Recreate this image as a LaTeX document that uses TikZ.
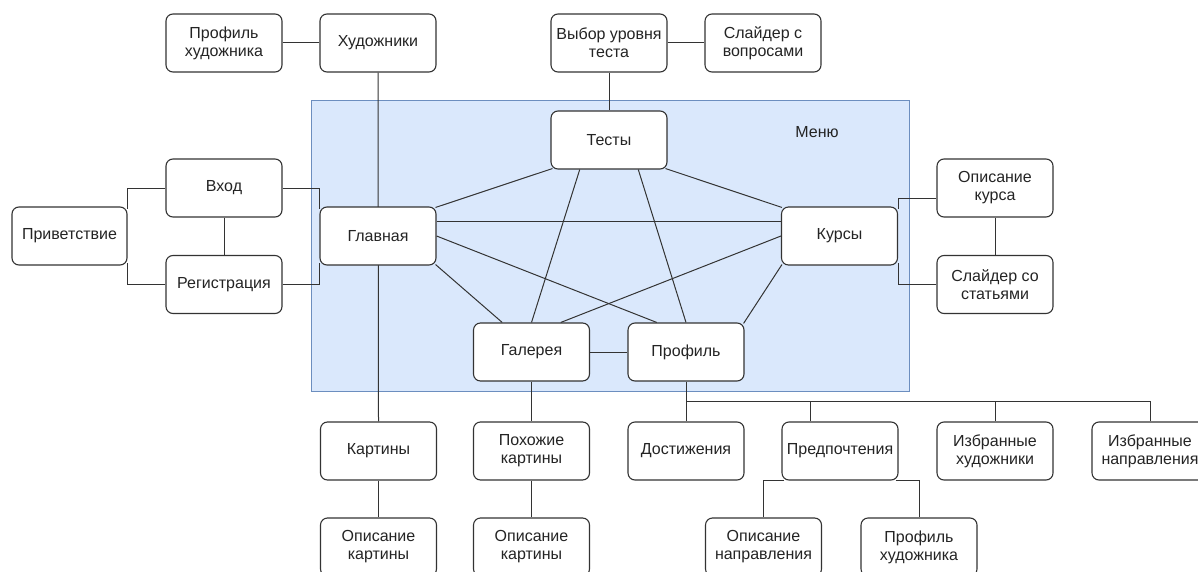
\documentclass[tikz,border=0pt]{standalone}
\usepackage{fontspec}
\setmainfont{Liberation Sans}
\usetikzlibrary{calc}
\definecolor{menufill}{HTML}{DAE8FC}
\definecolor{menuline}{HTML}{6C8EBF}
\definecolor{ink}{HTML}{333333}
\pgfdeclarelayer{bg}
\pgfdeclarelayer{edges}
\pgfsetlayers{bg,edges,main}
\tikzset{
  txt/.style={font=\fontsize{16}{18}\selectfont, text=ink!70!black},
  box/.style={txt, draw=ink, line width=1.1pt, fill=white, rounded corners=7pt,
    minimum width=116pt, minimum height=58pt, inner sep=0pt, align=center},
  conn/.style={draw=ink, line width=1pt},
}
\begin{document}
\begin{tikzpicture}[x=1pt,y=-1pt]
\useasboundingbox (0,0) rectangle (1198,572);
\clip (0,0) rectangle (1198,572);
% menu area
\begin{pgfonlayer}{bg}
\fill[menufill, draw=menuline, line width=1pt] (311,101) rectangle (909,391);
\end{pgfonlayer}
\node[txt] (menu) at (817,132) {Меню};
% nodes
\node[box] (prof1) at (224,43) {Профиль\\художника};
\node[box] (art) at (378,43) {Художники};
\node[box] (vybor) at (609,43) {Выбор уровня\\теста};
\node[box] (slq) at (763,43) {Слайдер с\\вопросами};
\node[box] (tests) at (609,140) {Тесты};
\node[box] (vhod) at (224,188) {Вход};
\node[box, minimum width=115pt] (priv) at (69.5,236) {Приветствие};
\node[box] (reg) at (224,284.5) {Регистрация};
\node[box] (gl) at (378,236) {Главная};
\node[box] (kursy) at (839.5,236) {Курсы};
\node[box] (opk) at (995,188) {Описание\\курса};
\node[box] (sls) at (995,284.5) {Слайдер со\\статьями};
\node[box] (gal) at (531.5,352) {Галерея};
\node[box] (prof) at (686,352) {Профиль};
\node[box] (kart) at (378.5,451) {Картины};
\node[box] (pohozh) at (531.5,451) {Похожие\\картины};
\node[box] (dost) at (686,451) {Достижения};
\node[box] (pred) at (840,451) {Предпочтения};
\node[box] (izbh) at (995,451) {Избранные\\художники};
\node[box] (izbn) at (1150,451) {Избранные\\направления};
\node[box] (opk1) at (378.5,547) {Описание\\картины};
\node[box] (opk2) at (531.5,547) {Описание\\картины};
\node[box] (opn) at (763.5,547) {Описание\\направления};
\node[box] (prof2) at (919,547) {Профиль\\художника};
\coordinate (pb) at (686,401);
% connectors
\begin{pgfonlayer}{edges}
\draw[conn] (prof1.east) -- (art.west);
\draw[conn] (art.south) -- (kart.north);
\draw[conn] (vybor.east) -- (slq.west);
\draw[conn] (vybor.south) -- (tests.north);
\draw[conn] (vhod.south) -- (reg.north);
\draw[conn] (vhod.west) -| ($(priv.north east)+(0,3)$);
\draw[conn] (reg.west) -| ($(priv.south east)+(0,-3)$);
\draw[conn] (vhod.east) -| ($(gl.north west)+(0,3)$);
\draw[conn] (reg.east) -| ($(gl.south west)+(0,-3)$);
\draw[conn] ($(opk.west)+(0,10)$) -| ($(kursy.north east)+(0,3)$);
\draw[conn] (sls.west) -| ($(kursy.south east)+(0,-3)$);
\draw[conn] (opk.south) -- (sls.north);
\draw[conn] (gal.south) -- (pohozh.north);
\draw[conn] (pohozh.south) -- (opk2.north);
\draw[conn] (kart.south) -- (opk1.north);
\draw[conn] (prof.south) -- (dost.north);
\draw[conn] (pb) -| (izbn.north);
\draw[conn] (pb) -| ($(pred.north west)!0.25!(pred.north east)$);
\draw[conn] (pb) -| (izbh.north);
\draw[conn] ($(pred.south west)+(3,0)$) -| (opn.north);
\draw[conn] ($(pred.south east)+(-3,0)$) -| (prof2.north);
% menu graph
\draw[conn] ($(gl.north east)+(-1,1)$) -- ($(tests.south west)+(2,-1)$);
\draw[conn] ($(gl.north east)!0.25!(gl.south east)$) -- ($(kursy.north west)!0.25!(kursy.south west)$);
\draw[conn] (gl.east) -- ($(prof.north west)!0.25!(prof.north east)$);
\draw[conn] ($(gl.south east)+(-1,-1)$) -- ($(gal.north west)!0.25!(gal.north east)$);
\draw[conn] ($(tests.south west)!0.25!(tests.south east)$) -- (gal.north);
\draw[conn] ($(tests.south west)!0.75!(tests.south east)$) -- (prof.north);
\draw[conn] ($(tests.south east)+(-2,-1)$) -- ($(kursy.north west)+(1,1)$);
\draw[conn] (kursy.west) -- ($(gal.north west)!0.75!(gal.north east)$);
\draw[conn] ($(kursy.south west)+(1,-1)$) -- ($(prof.north east)+(-1,1)$);
\draw[conn] (gal.east) -- (prof.west);
\end{pgfonlayer}
\end{tikzpicture}
\end{document}
